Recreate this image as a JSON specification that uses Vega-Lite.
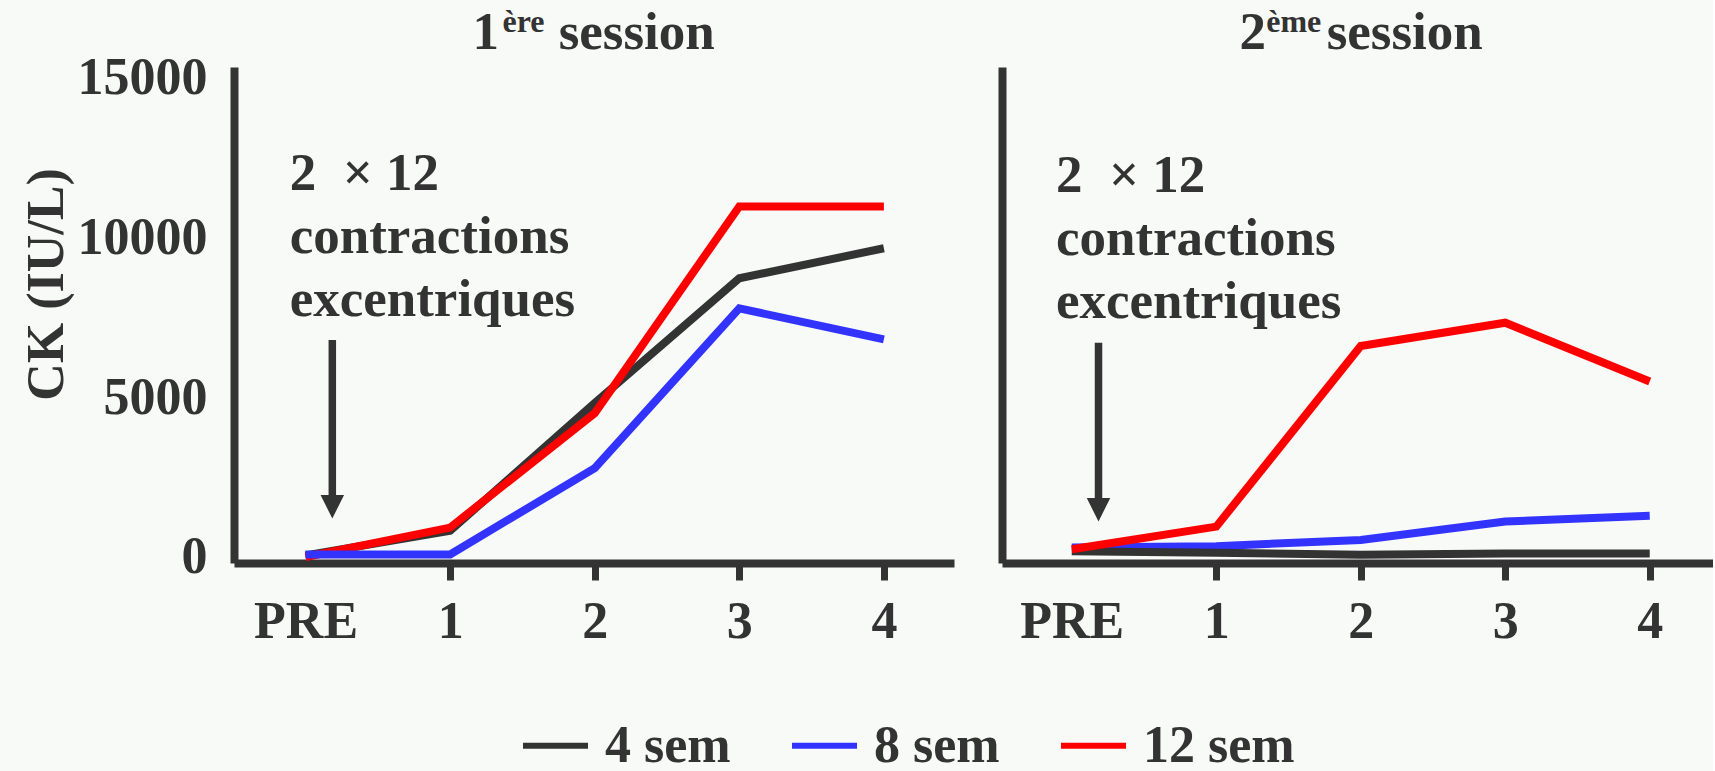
{
  "$schema": "https://vega.github.io/schema/vega-lite/v6.json",
  "background": "#f8faf8",
  "padding": {"left": 20, "top": 6, "right": 0, "bottom": 0},
  "spacing": 48,
  "config": {
    "view": {"stroke": null},
    "font": "Liberation Serif",
    "axis": {
      "grid": false,
      "domainColor": "#333333",
      "domainWidth": 8,
      "tickColor": "#333333",
      "labelColor": "#333333",
      "labelFont": "Liberation Serif",
      "labelFontWeight": "bold",
      "labelFontSize": 52,
      "labelFlush": false,
      "labelOverlap": false,
      "titleColor": "#333333",
      "titleFont": "Liberation Serif",
      "titleFontWeight": "bold"
    },
    "text": {"font": "Liberation Serif", "fontWeight": "bold", "color": "#333333"},
    "legend": {
      "labelFont": "Liberation Serif",
      "labelFontWeight": "bold",
      "labelFontSize": 52,
      "labelColor": "#333333",
      "labelLimit": 400,
      "padding": 0
    }
  },
  "datasets": {
    "session1": [
      {"t": 0, "group": "4 sem", "ck": 50},
      {"t": 1, "group": "4 sem", "ck": 820},
      {"t": 2, "group": "4 sem", "ck": 4820},
      {"t": 3, "group": "4 sem", "ck": 8720},
      {"t": 4, "group": "4 sem", "ck": 9660},
      {"t": 0, "group": "12 sem", "ck": 0},
      {"t": 1, "group": "12 sem", "ck": 920},
      {"t": 2, "group": "12 sem", "ck": 4500},
      {"t": 3, "group": "12 sem", "ck": 10970},
      {"t": 4, "group": "12 sem", "ck": 10970},
      {"t": 0, "group": "8 sem", "ck": 80},
      {"t": 1, "group": "8 sem", "ck": 80},
      {"t": 2, "group": "8 sem", "ck": 2780},
      {"t": 3, "group": "8 sem", "ck": 7780},
      {"t": 4, "group": "8 sem", "ck": 6810}
    ],
    "session2": [
      {"t": 0, "group": "8 sem", "ck": 300},
      {"t": 1, "group": "8 sem", "ck": 340},
      {"t": 2, "group": "8 sem", "ck": 530},
      {"t": 3, "group": "8 sem", "ck": 1110},
      {"t": 4, "group": "8 sem", "ck": 1290},
      {"t": 0, "group": "4 sem", "ck": 180},
      {"t": 1, "group": "4 sem", "ck": 135},
      {"t": 2, "group": "4 sem", "ck": 70},
      {"t": 3, "group": "4 sem", "ck": 110},
      {"t": 4, "group": "4 sem", "ck": 110},
      {"t": 0, "group": "12 sem", "ck": 240},
      {"t": 1, "group": "12 sem", "ck": 950},
      {"t": 2, "group": "12 sem", "ck": 6600},
      {"t": 3, "group": "12 sem", "ck": 7330},
      {"t": 4, "group": "12 sem", "ck": 5490}
    ],
    "note1": [
      {"label": "2\u00a0 × 12\ncontractions\nexcentriques", "tx": -0.11, "ty": 11480, "ax": 0.185, "top": 6790, "head": 1574,
       "num": "1", "sup": "ère", "word": "session", "numX": 1.155, "supX": 1.362, "wordX": 1.751, "baseY": 15895, "supY": 16412}
    ],
    "note2": [
      {"label": "2\u00a0 × 12\ncontractions\nexcentriques", "tx": -0.11, "ty": 11420, "ax": 0.185, "top": 6700, "head": 1477,
       "num": "2", "sup": "ème", "word": "session", "numX": 1.1615, "supX": 1.3456, "wordX": 1.7644, "baseY": 15895, "supY": 16412}
    ]
  },
  "hconcat": [
    {
      "width": 720,
      "height": 496,
      "layer": [
        {
          "data": {"name": "session1"},
          "mark": {"type": "line", "strokeWidth": 8, "strokeCap": "butt"},
          "encoding": {
            "x": {
              "field": "t", "type": "quantitative",
              "scale": {"domain": [-0.495, 4.485], "nice": false, "zero": false},
              "axis": {
                "title": null,
                "values": [0, 1, 2, 3, 4],
                "format": "d",
                "labelExpr": "datum.value == 0 ? 'PRE' : datum.label",
                "tickSize": 17,
                "tickWidth": 7,
                "tickOpacity": {"condition": {"test": "datum.value == 0", "value": 0}, "value": 1},
                "labelPadding": 16
              }
            },
            "y": {
              "field": "ck", "type": "quantitative",
              "scale": {"domain": [-188, 15332], "nice": false, "zero": false},
              "axis": {
                "title": "CK (IU/L)",
                "values": [0, 5000, 10000, 15000],
                "format": "d",
                "ticks": false,
                "tickSize": 0,
                "labelPadding": 27,
                "titleFontSize": 52,
                "titleAngle": 270,
                "titleAlign": "center",
                "titleBaseline": "alphabetic",
                "titleX": -172,
                "titleY": 217
              }
            },
            "color": {
              "field": "group", "type": "nominal",
              "scale": {"domain": ["4 sem", "8 sem", "12 sem"], "range": ["#333333", "#3333ff", "#ff0000"]},
              "legend": {
                "title": null,
                "orient": "none",
                "direction": "horizontal",
                "legendX": 286,
                "legendY": 643,
                "symbolType": "stroke",
                "symbolSize": 4225,
                "symbolStrokeWidth": 6,
                "labelOffset": 14,
                "columnPadding": 49
              }
            }
          }
        },
        {
          "data": {"name": "note1"},
          "mark": {"type": "rule", "color": "#333333", "strokeWidth": 7.5},
          "encoding": {
            "x": {"field": "ax", "type": "quantitative"},
            "y": {"field": "top", "type": "quantitative"},
            "y2": {"field": "head"}
          }
        },
        {
          "data": {"name": "note1"},
          "mark": {"type": "point", "shape": "M-1,-1L1,-1L0,1Z", "size": 552, "filled": true, "opacity": 1, "strokeWidth": 0, "color": "#333333"},
          "encoding": {
            "x": {"field": "ax", "type": "quantitative"},
            "y": {"field": "head", "type": "quantitative"}
          }
        },
        {
          "data": {"name": "note1"},
          "mark": {"type": "text", "align": "left", "baseline": "alphabetic", "lineBreak": "\n", "lineHeight": 63, "fontSize": 53},
          "encoding": {
            "x": {"field": "tx", "type": "quantitative"},
            "y": {"field": "ty", "type": "quantitative"},
            "text": {"field": "label", "type": "nominal"}
          }
        },
        {
          "data": {"name": "note1"},
          "mark": {"type": "text", "align": "left", "baseline": "alphabetic", "fontSize": 53},
          "encoding": {
            "x": {"field": "numX", "type": "quantitative"},
            "y": {"field": "baseY", "type": "quantitative"},
            "text": {"field": "num", "type": "nominal"}
          }
        },
        {
          "data": {"name": "note1"},
          "mark": {"type": "text", "align": "left", "baseline": "alphabetic", "fontSize": 32},
          "encoding": {
            "x": {"field": "supX", "type": "quantitative"},
            "y": {"field": "supY", "type": "quantitative"},
            "text": {"field": "sup", "type": "nominal"}
          }
        },
        {
          "data": {"name": "note1"},
          "mark": {"type": "text", "align": "left", "baseline": "alphabetic", "fontSize": 53},
          "encoding": {
            "x": {"field": "wordX", "type": "quantitative"},
            "y": {"field": "baseY", "type": "quantitative"},
            "text": {"field": "word", "type": "nominal"}
          }
        }
      ]
    },
    {
      "width": 711,
      "height": 496,
      "layer": [
        {
          "data": {"name": "session2"},
          "mark": {"type": "line", "strokeWidth": 8, "strokeCap": "butt"},
          "encoding": {
            "x": {
              "field": "t", "type": "quantitative",
              "scale": {"domain": [-0.483, 4.438], "nice": false, "zero": false},
              "axis": {
                "title": null,
                "values": [0, 1, 2, 3, 4],
                "format": "d",
                "labelExpr": "datum.value == 0 ? 'PRE' : datum.label",
                "tickSize": 17,
                "tickWidth": 7,
                "tickOpacity": {"condition": {"test": "datum.value == 0", "value": 0}, "value": 1},
                "labelPadding": 16
              }
            },
            "y": {
              "field": "ck", "type": "quantitative",
              "scale": {"domain": [-188, 15332], "nice": false, "zero": false},
              "axis": {
                "title": null,
                "values": [0, 5000, 10000, 15000],
                "labels": false,
                "ticks": false,
                "tickSize": 0
              }
            },
            "color": {
              "field": "group", "type": "nominal",
              "scale": {"domain": ["4 sem", "8 sem", "12 sem"], "range": ["#333333", "#3333ff", "#ff0000"]},
              "legend": null
            }
          }
        },
        {
          "data": {"name": "note2"},
          "mark": {"type": "rule", "color": "#333333", "strokeWidth": 7.5},
          "encoding": {
            "x": {"field": "ax", "type": "quantitative"},
            "y": {"field": "top", "type": "quantitative"},
            "y2": {"field": "head"}
          }
        },
        {
          "data": {"name": "note2"},
          "mark": {"type": "point", "shape": "M-1,-1L1,-1L0,1Z", "size": 552, "filled": true, "opacity": 1, "strokeWidth": 0, "color": "#333333"},
          "encoding": {
            "x": {"field": "ax", "type": "quantitative"},
            "y": {"field": "head", "type": "quantitative"}
          }
        },
        {
          "data": {"name": "note2"},
          "mark": {"type": "text", "align": "left", "baseline": "alphabetic", "lineBreak": "\n", "lineHeight": 63, "fontSize": 53},
          "encoding": {
            "x": {"field": "tx", "type": "quantitative"},
            "y": {"field": "ty", "type": "quantitative"},
            "text": {"field": "label", "type": "nominal"}
          }
        },
        {
          "data": {"name": "note2"},
          "mark": {"type": "text", "align": "left", "baseline": "alphabetic", "fontSize": 53},
          "encoding": {
            "x": {"field": "numX", "type": "quantitative"},
            "y": {"field": "baseY", "type": "quantitative"},
            "text": {"field": "num", "type": "nominal"}
          }
        },
        {
          "data": {"name": "note2"},
          "mark": {"type": "text", "align": "left", "baseline": "alphabetic", "fontSize": 32},
          "encoding": {
            "x": {"field": "supX", "type": "quantitative"},
            "y": {"field": "supY", "type": "quantitative"},
            "text": {"field": "sup", "type": "nominal"}
          }
        },
        {
          "data": {"name": "note2"},
          "mark": {"type": "text", "align": "left", "baseline": "alphabetic", "fontSize": 53},
          "encoding": {
            "x": {"field": "wordX", "type": "quantitative"},
            "y": {"field": "baseY", "type": "quantitative"},
            "text": {"field": "word", "type": "nominal"}
          }
        }
      ]
    }
  ]
}
